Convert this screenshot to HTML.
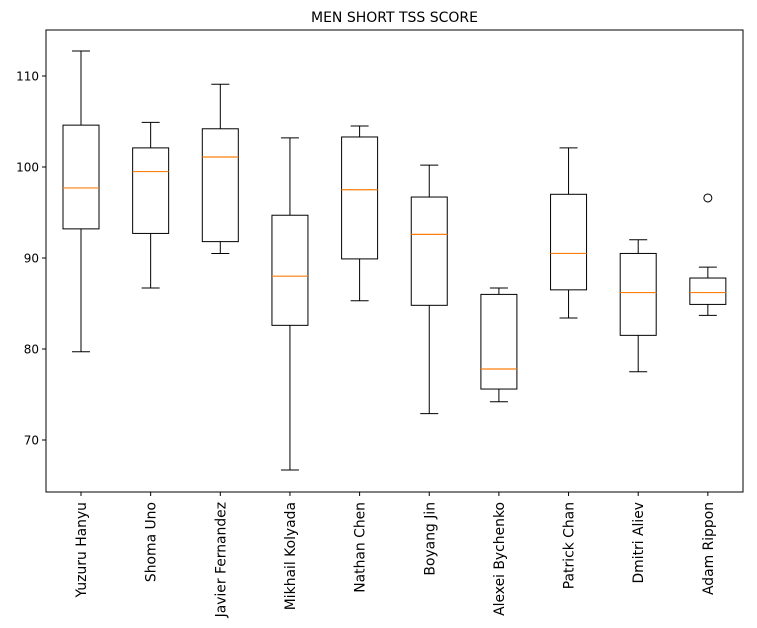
<!DOCTYPE html>
<html><head><meta charset="utf-8"><style>
body{margin:0;background:#fff;}
svg{display:block;font-family:"DejaVu Sans","Liberation Sans",sans-serif;}
</style></head><body>
<svg id="chart" width="757" height="628">
<text x="394.5" y="22" text-anchor="middle" font-size="14">MEN SHORT TSS SCORE</text>
<g id="plot"></g>
<rect x="46" y="30" width="697" height="462" fill="none" stroke="#000" stroke-width="1"/>
</svg>
<script>
const skaters=["Yuzuru Hanyu","Shoma Uno","Javier Fernandez","Mikhail Kolyada","Nathan Chen","Boyang Jin","Alexei Bychenko","Patrick Chan","Dmitri Aliev","Adam Rippon"];
const whiskerLow=[79.7,86.7,90.5,66.7,85.3,72.9,74.2,83.4,77.5,83.7];
const q1=[93.2,92.7,91.8,82.6,89.9,84.8,75.6,86.5,81.5,84.9];
const medians=[97.7,99.5,101.1,88.0,97.5,92.6,77.8,90.5,86.2,86.2];
const q3=[104.6,102.1,104.2,94.7,103.3,96.7,86.0,97.0,90.5,87.8];
const whiskerHigh=[112.75,104.9,109.1,103.2,104.5,100.2,86.7,102.1,92.0,89.0];
const outliers=[[],[],[],[],[],[],[],[],[],[96.6]];
const yTicks=[70,80,90,100,110];

const NS="http://www.w3.org/2000/svg";
const plot=document.getElementById('plot');
const y=v=>440-(v-70)*9.1;
const x=i=>81+i*69.65;
function mk(tag,attrs,parent){const e=document.createElementNS(NS,tag);for(const k in attrs)e.setAttribute(k,attrs[k]);(parent||plot).appendChild(e);return e;}
yTicks.forEach(t=>{
  const l=mk('line',{x1:42,x2:46,y1:y(t),y2:y(t),stroke:'#000'});
  
  
  const tx=mk('text',{x:39,y:y(t)+4.5,'text-anchor':'end','font-size':'12'});
  tx.textContent=t;
  
  
});
skaters.forEach((name,i)=>{
  const cx=x(i);
  const g=mk('g',{});
  
  
  mk('line',{x1:cx,x2:cx,y1:y(whiskerLow[i]),y2:y(q1[i]),stroke:'#000'},g);
  mk('line',{x1:cx,x2:cx,y1:y(q3[i]),y2:y(whiskerHigh[i]),stroke:'#000'},g);
  mk('line',{x1:cx-9,x2:cx+9,y1:y(whiskerLow[i]),y2:y(whiskerLow[i]),stroke:'#000'},g);
  mk('line',{x1:cx-9,x2:cx+9,y1:y(whiskerHigh[i]),y2:y(whiskerHigh[i]),stroke:'#000'},g);
  mk('rect',{x:cx-18,y:y(q3[i]),width:36,height:y(q1[i])-y(q3[i]),fill:'none',stroke:'#000'},g);
  mk('line',{x1:cx-18,x2:cx+18,y1:y(medians[i]),y2:y(medians[i]),stroke:'#ff7f0e','stroke-width':1.2},g);
  outliers[i].forEach(o=>{
    const c=mk('circle',{cx:cx,cy:y(o),r:4,fill:'none',stroke:'#000'},g);
    
    
  });
  mk('line',{x1:cx,x2:cx,y1:492,y2:496,stroke:'#000'});
  const t=mk('text',{x:0,y:0,'text-anchor':'end','font-size':'13.9',transform:`translate(${cx+5},502) rotate(-90)`});
  t.textContent=name;
  
  
});
</script>
</body></html>
